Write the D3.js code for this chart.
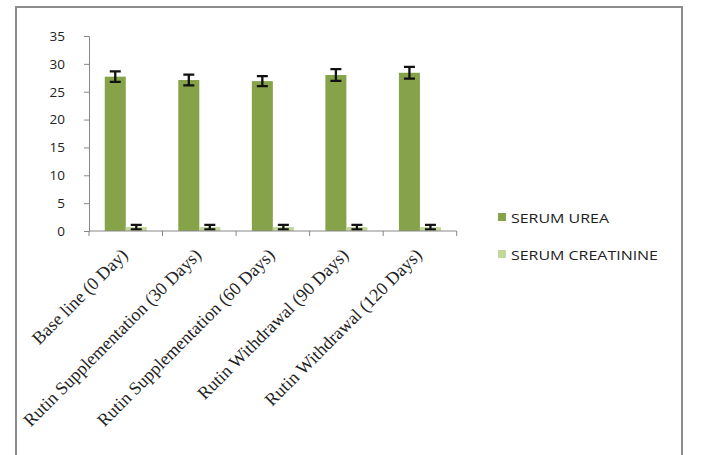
<!DOCTYPE html>
<html><head><meta charset="utf-8">
<script src="https://cdn.jsdelivr.net/npm/d3@7/dist/d3.min.js"></script>
<style>body{margin:0;background:#fff}svg{display:block}</style>
</head><body>
<svg id="c" width="701" height="455"></svg>
<script>
const categories = ["Base line (0 Day)", "Rutin Supplementation (30 Days)", "Rutin Supplementation (60 Days)", "Rutin Withdrawal (90 Days)", "Rutin Withdrawal (120 Days)"];
const seriesNames = ["SERUM UREA", "SERUM CREATININE"];
const ureaValues = [27.7, 27.1, 26.9, 28.0, 28.4];
const ureaErrors = [0.95, 0.95, 0.9, 1.05, 1.05];
const creatValues = [0.7, 0.7, 0.7, 0.7, 0.7];
const creatErrors = [0.4, 0.4, 0.4, 0.4, 0.4];
const yTicks = [0, 5, 10, 15, 20, 25, 30, 35];
const colors = ["#86a34a", "#c3d69b"];

const svg = d3.select("#c");
// outer border
svg.append("path").attr("d", "M16,460 L16,7 L682,7 L682,460")
  .attr("fill", "none").attr("stroke", "#8c8c8c").attr("stroke-width", 2);

const mLeft = 89, mRight = 456.7, mTop = 36, mBottom = 231;
const x = d3.scaleBand().domain(categories).range([mLeft, mRight]).paddingInner(0).paddingOuter(0);
const x1 = d3.scaleBand().domain(seriesNames).range([0, x.bandwidth()]).paddingInner(0).paddingOuter(0.75);
const y = d3.scaleLinear().domain([0, 35]).range([mBottom, mTop]);

// y axis
const ya = svg.append("g").attr("transform", `translate(${mLeft},0)`)
  .call(d3.axisLeft(y).tickValues(yTicks).tickSize(5).tickPadding(19));
ya.selectAll("path,line").attr("stroke", "#888");
ya.selectAll("text").attr("font-family", "Open Sans, sans-serif").attr("font-size", 13.5).attr("fill", "#222");

const data = categories.map((c, i) => ({c, vals: [
  {s: seriesNames[0], v: ureaValues[i], e: ureaErrors[i], col: colors[0]},
  {s: seriesNames[1], v: creatValues[i], e: creatErrors[i], col: colors[1]}]}));

const g = svg.append("g");
const grp = g.selectAll("g").data(data).join("g").attr("transform", d => `translate(${x(d.c)},0)`);
grp.selectAll("rect").data(d => d.vals).join("rect")
  .attr("x", d => x1(d.s)).attr("width", x1.bandwidth())
  .attr("y", d => y(d.v)).attr("height", d => y(0) - y(d.v)).attr("fill", d => d.col);

// error bars
grp.each(function(d) {
  const gg = d3.select(this);
  d.vals.forEach(v => {
    const cx = x1(v.s) + x1.bandwidth() / 2;
    const cw = 5.5;
    const p = `M${cx},${y(v.v + v.e)}V${y(v.v - v.e)}M${cx - cw},${y(v.v + v.e)}H${cx + cw}M${cx - cw},${y(v.v - v.e)}H${cx + cw}`;
    gg.append("path").attr("d", p).attr("stroke", "#111").attr("stroke-width", 2.3).attr("fill", "none");
  });
});

// x axis
const xa = svg.append("g").attr("transform", `translate(0,${mBottom})`);
xa.append("path").attr("d", `M${mLeft},0H${mRight}`).attr("stroke", "#888");
const bounds = categories.map(c => x(c)).concat([mRight]);
xa.selectAll("line").data(bounds).join("line")
  .attr("x1", d => d).attr("x2", d => d).attr("y1", 0).attr("y2", 5).attr("stroke", "#888");
xa.selectAll("text").data(categories).join("text")
  .attr("transform", d => `translate(${x(d) + x.bandwidth() / 2 + 3},${25}) rotate(-45)`)
  .attr("text-anchor", "end")
  .attr("font-family", "Liberation Serif, Times New Roman, serif").attr("font-size", 18).attr("fill", "#222")
  .text(d => d);

// legend
const legendWidths = [98, 147];
const lg = svg.append("g");
seriesNames.forEach((s, i) => {
  const ly = 213 + i * 37;
  lg.append("rect").attr("x", 498).attr("y", ly).attr("width", 8).attr("height", 8).attr("fill", colors[i]);
  lg.append("text").attr("x", 511).attr("y", ly + 9.5)
    .attr("font-family", "Open Sans, sans-serif").attr("font-size", 13.5).attr("fill", "#222")
    .attr("textLength", legendWidths[i]).attr("lengthAdjust", "spacingAndGlyphs").text(s);
});
</script>
</body></html>
